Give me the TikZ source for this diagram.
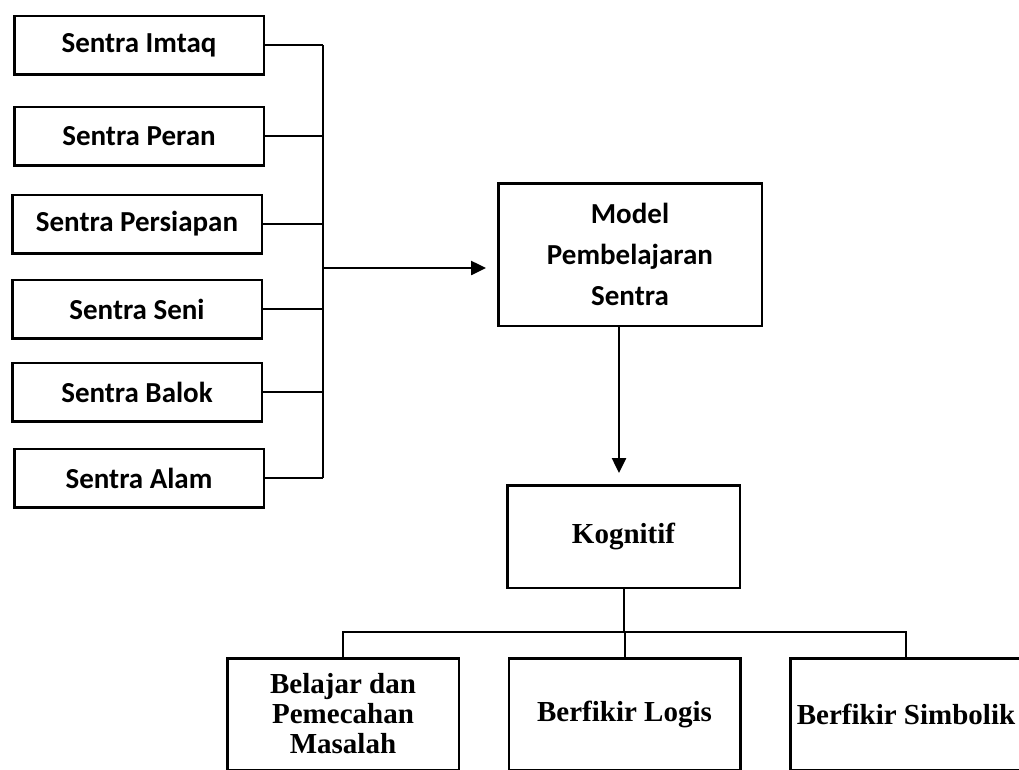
\documentclass[tikz,border=0pt]{standalone}
\usepackage{fontspec}
\setmainfont{Liberation Serif}
\newfontfamily\calibri{Carlito}
\usetikzlibrary{calc,positioning,arrows.meta}

\begin{document}
\begin{tikzpicture}[x=1pt,y=1pt,
  sentra/.style={draw,line width=2.5pt,inner sep=2pt,minimum width=249.5pt,minimum height=58.5pt,font=\calibri\bfseries\fontsize{29}{41}\selectfont},
  aspek/.style={draw,line width=2.5pt,inner sep=2pt,align=center,font=\bfseries\fontsize{29}{30}\selectfont},
  cabang/.style={line width=1.2pt},
  link/.style={line width=2pt},
  panah/.style={line width=2.5pt,-{Triangle[length=15pt,width=14pt]}}]

\useasboundingbox (0,0) rectangle (1019,-769);
\clip (0,0) rectangle (1019,-769);

\def\sentras{1/Imtaq/139/45,2/Peran/139/136,3/Persiapan/137/224,4/Seni/137/309,5/Balok/137/392,6/Alam/139/478}
\foreach \i / \element / \x / \y in \sentras
  \node [sentra] (s\i) at (\x,-\y) {Sentra \element};

\coordinate (bus) at (323,-268);
\foreach \i in {1,...,6}
  \draw [cabang] (s\i.east) -- (s\i.east -| bus);
\draw [cabang] (s1.east -| bus) -- (s6.east -| bus);

\node [sentra,minimum width=263.5pt,minimum height=142.5pt,align=center] (model) at (630,-254.5) {Model\\Pembelajaran\\Sentra};
\draw [panah,shorten >=11pt] (bus) -- (bus -| model.west);

\node [aspek,minimum width=232.5pt,minimum height=102.5pt] (kog) at (623.5,-536.5) {Kognitif};
\draw [panah,shorten >=11pt] ([xshift=-11pt]model.south) -- ([xshift=-11pt]model.south |- kog.north);

\def\aspeks{1/{Belajar dan\\Pemecahan\\Masalah}/343,2/{Berfikir Logis}/624.5,3/{Berfikir Simbolik}/906}
\foreach \i / \element / \x in \aspeks
  \node [aspek,minimum width=231.5pt,minimum height=111.5pt] (b\i) at (\x,-714) {\element};

\coordinate (bar) at (624,-632);
\draw [link] (kog.south) -- (kog.south |- bar);
\draw [link] (b1.north) -- (b1.north |- bar) -- (b3.north |- bar) -- (b3.north);
\draw [link] (b2.north) -- (b2.north |- bar);

\end{tikzpicture}
\end{document}
